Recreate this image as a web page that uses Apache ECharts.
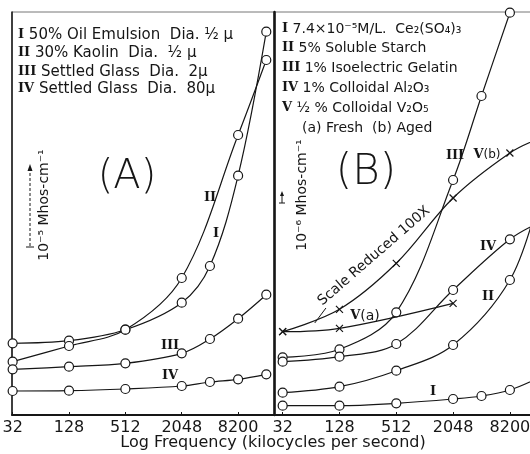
<!DOCTYPE html>
<html lang="en">
<head>
<meta charset="UTF-8">
<title>Conductance vs Log Frequency</title>
<script src="https://cdn.jsdelivr.net/npm/echarts@6/dist/echarts.min.js"></script>
<style>
html, body { margin: 0; padding: 0; background: #fff; }
#main { width: 530px; height: 454px; }
</style>
</head>
<body>
<div id="main"></div>
<script>
// measured frequencies (kilocycles per second)
var freq7 = [32, 128, 512, 2048, 4096, 8192, 16384];
var freq6 = [32, 128, 512, 2048, 8192, 16384];
var freqB3 = [32, 128, 512, 2048, 4096, 8192];
var freqVa = [32, 128, 2048];

// panel (A), arbitrary conductance units
var aI = [71.7, 74.3, 85.3, 112.3, 149, 239.3, 383.3];
var aII = [53.3, 69, 85.3, 137, 280, 355];          // freq6
var aIII = [45.7, 48.3, 51.7, 61.7, 76, 96.3, 120.3];
var aIV = [24, 24.3, 26, 29, 33, 35.7, 40.7];

// panel (B)
var bI = [9.3, 9.3, 11.7, 16, 19, 25, 37];
var bII = [22.3, 28.3, 44.3, 70, 135, 215];         // freq6
var bIII = [57.7, 65.7, 102.7, 235, 319, 402.3];    // freqB3
var bIV = [53.3, 58.3, 71, 125, 175.7, 192];        // freq6
var bVa = [83.3, 86.7, 111.7];                      // freqVa
var bVb = [83.3, 105.7, 151.7, 217, 262, 276];      // freq6, scale reduced 100X

var tickFreqs = [32, 128, 512, 2048, 8192];
var tickLabels = ['32', '128', '512', '2048', '8200'];

var ink = '#161616';
var sans = 'DejaVu Sans';
var crossPath = 'path://M0,0L10,10M10,0L0,10';

function pairs(xs, ys) {
	return xs.map(function (x, i) { return [x, ys[i]]; });
}

function curve(panel, xs, ys, mark) {
	var isX = mark === 'x';
	return {
		type: 'line',
		xAxisIndex: panel,
		yAxisIndex: panel,
		data: pairs(xs, ys),
		smooth: 0.35,
		symbol: isX ? crossPath : 'circle',
		symbolSize: isX ? 7 : 9,
		showAllSymbol: true,
		lineStyle: { color: ink, width: 1.2 },
		itemStyle: isX
			? { color: ink, borderColor: ink, borderWidth: 1.2 }
			: { color: '#fff', borderColor: ink, borderWidth: 1.2 },
		emphasis: { disabled: true },
		silent: true
	};
}

function xAxisFor(panel, min, max) {
	return {
		type: 'log',
		logBase: 2,
		gridIndex: panel,
		min: min,
		max: max,
		axisLine: { show: true, lineStyle: { color: ink, width: 2 } },
		axisTick: { show: true, inside: true, length: 3, customValues: tickFreqs, lineStyle: { color: ink } },
		splitLine: { show: false },
		minorTick: { show: false },
		axisLabel: {
			customValues: tickFreqs,
			margin: 5,
			color: ink,
			fontFamily: sans,
			fontSize: 16,
			formatter: function (v) {
				var i = tickFreqs.indexOf(Math.round(v));
				return i < 0 ? '' : tickLabels[i];
			}
		}
	};
}

function yAxisFor(panel, lineWidth) {
	return {
		type: 'value',
		gridIndex: panel,
		min: 0,
		max: 403,
		axisLine: { show: true, lineStyle: { color: ink, width: lineWidth } },
		axisTick: { show: false },
		axisLabel: { show: false },
		splitLine: { show: false }
	};
}

function txt(x, y, text, size, extra) {
	var style = { text: text, fill: ink, fontSize: size, fontFamily: sans, verticalAlign: 'middle', align: 'left' };
	if (extra) for (var k in extra) style[k] = extra[k];
	return { type: 'text', x: x, y: y, style: style, silent: true, z: 10 };
}

var num = { fontFamily: 'DejaVu Serif', fontWeight: 'bold', fontSize: 13, fill: ink };
function legendLine(x, y, n, rest, size) {
	return txt(x, y, '{n|' + n + '} ' + rest, size, { rich: { n: num } });
}
function tag(x, y, n) {
	return txt(x, y, '{n|' + n + '}', 13, { rich: { n: num }, align: 'center' });
}

var chart = echarts.init(document.getElementById('main'), null, { renderer: 'canvas' });

var option = {
	animation: false,
	backgroundColor: '#fff',
	grid: [
		{ left: 12, top: 12, width: 263, height: 403, show: true, borderColor: '#777', borderWidth: 1, outerBoundsMode: 'none' },
		{ left: 274, top: 12, width: 266, height: 403, show: true, borderColor: '#777', borderWidth: 1, outerBoundsMode: 'none' }
	],
	xAxis: [xAxisFor(0, 31.5, 20300), xAxisFor(1, 25.9, 17080)],
	yAxis: [yAxisFor(0, 1.5), yAxisFor(1, 2.5)],
	series: [
		curve(0, freq7, aI),
		curve(0, freq6, aII),
		curve(0, freq7, aIII),
		curve(0, freq7, aIV),
		curve(1, freq7, bI),
		curve(1, freq6, bII),
		curve(1, freqB3, bIII),
		curve(1, freq6, bIV),
		curve(1, freqVa, bVa, 'x'),
		Object.assign(curve(1, freq6, bVb, 'x'), {
			markLine: {
				silent: true,
				symbol: ['none', 'arrow'],
				symbolSize: [0, 7],
				label: { show: false },
				lineStyle: { color: ink, width: 1, type: 'solid' },
				data: [[{ coord: [70, 92] }, { coord: [92, 107] }]]
			}
		})
	],
	graphic: [
		// panel (A) legend
		legendLine(18, 35, 'I', '50% Oil Emulsion  Dia. ½ μ', 15),
		legendLine(18, 53, 'II', '30% Kaolin  Dia.  ½ μ', 15),
		legendLine(18, 72, 'III', 'Settled Glass  Dia.  2μ', 15),
		legendLine(18, 89, 'IV', 'Settled Glass  Dia.  80μ', 15),
		// panel (B) legend
		legendLine(282, 29, 'I', '7.4×10⁻⁵M/L.  Ce₂(SO₄)₃', 14),
		legendLine(282, 48, 'II', '5% Soluble Starch', 14),
		legendLine(282, 68, 'III', '1% Isoelectric Gelatin', 14),
		legendLine(282, 88, 'IV', '1% Colloidal Al₂O₃', 14),
		legendLine(282, 108, 'V', '½ % Colloidal V₂O₅', 14),
		txt(302, 128, '(a) Fresh  (b) Aged', 14),
		// panel titles
		txt(127, 178, '(A)', 40, { align: 'center', fontWeight: 200 }),
		txt(366, 173, '(B)', 42, { align: 'center', fontWeight: 200 }),
		// unit labels
		txt(44, 205, '10⁻⁵ Mhos-cm⁻¹', 14, { align: 'center' }),
		txt(302, 195, '10⁻⁶ Mhos-cm⁻¹', 14, { align: 'center' }),
		// curve tags
		tag(210, 198, 'II'),
		tag(216, 234, 'I'),
		tag(170, 346, 'III'),
		tag(170, 376, 'IV'),
		tag(455, 156, 'III'),
		txt(487, 155, '{n|V}(b)', 12, { rich: { n: num }, align: 'center' }),
		tag(488, 247, 'IV'),
		tag(488, 297, 'II'),
		tag(433, 392, 'I'),
		txt(365, 316, '{n|V}(a)', 14, { rich: { n: num }, align: 'center' }),
		txt(374, 256, 'Scale Reduced 100X', 14, { align: 'center' }),
		txt(273, 443, 'Log Frequency (kilocycles per second)', 16, { align: 'center' }),
		// scale bars
		{ type: 'line', shape: { x1: 30, y1: 168, x2: 30, y2: 247 }, style: { stroke: ink, lineWidth: 1, lineDash: [3, 2] }, silent: true },
		{ type: 'line', shape: { x1: 26, y1: 247, x2: 34, y2: 247 }, style: { stroke: ink, lineWidth: 1 }, silent: true },
		{ type: 'polygon', shape: { points: [[30, 164], [27.5, 171], [32.5, 171]] }, style: { fill: ink }, silent: true },
		{ type: 'line', shape: { x1: 282, y1: 194, x2: 282, y2: 203 }, style: { stroke: ink, lineWidth: 1 }, silent: true },
		{ type: 'line', shape: { x1: 279, y1: 203, x2: 285, y2: 203 }, style: { stroke: ink, lineWidth: 1 }, silent: true },
		{ type: 'polygon', shape: { points: [[282, 191], [280, 196], [284, 196]] }, style: { fill: ink }, silent: true }
	]
};

// rotate the axis unit labels and the V(b) note
option.graphic[12].rotation = Math.PI / 2;
option.graphic[13].rotation = Math.PI / 2;
option.graphic[24].rotation = 41 * Math.PI / 180;

chart.setOption(option);
</script>
</body>
</html>
